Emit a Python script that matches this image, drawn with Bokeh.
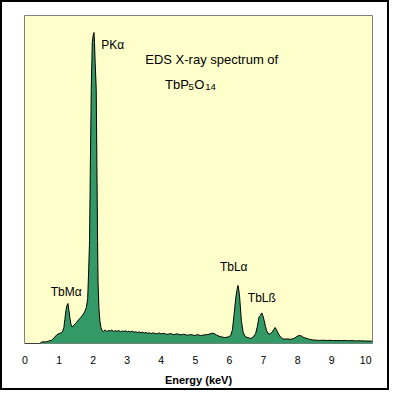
from bokeh.plotting import figure
from bokeh.models import ColumnDataSource, FixedTicker, Range1d
from bokeh.core.properties import value
from bokeh.embed import file_html
from bokeh.resources import INLINE

# Energy (keV) and intensity (arbitrary counts)
energy = [0.00, 0.45, 0.48, 0.55, 0.62, 0.70, 0.78, 0.85, 0.92, 1.00, 1.07, 1.11, 1.14, 1.17,
          1.20, 1.23, 1.26, 1.29, 1.32, 1.35, 1.38, 1.42, 1.46, 1.51, 1.56, 1.61, 1.65, 1.70,
          1.75, 1.80, 1.84, 1.87, 1.895, 1.915, 1.945, 1.975, 2.00, 2.025, 2.04, 2.06, 2.09,
          2.11, 2.13, 2.145, 2.17, 2.20, 2.23, 2.26, 2.30, 2.35, 2.40, 2.45, 2.50, 2.55, 2.60,
          2.65, 2.70, 2.75, 2.80, 2.85, 2.90, 2.95, 3.00, 3.05, 3.10, 3.15, 3.20, 3.25, 3.30,
          3.35, 3.40, 3.45, 3.50, 3.55, 3.60, 3.65, 3.70, 3.75, 3.80, 3.85, 3.90, 3.95, 4.00,
          4.05, 4.10, 4.15, 4.20, 4.25, 4.30, 4.35, 4.40, 4.45, 4.50, 4.55, 4.60, 4.65, 4.70,
          4.75, 4.80, 4.85, 4.90, 4.95, 5.00, 5.05, 5.10, 5.15, 5.20, 5.25, 5.30, 5.35, 5.40,
          5.48, 5.55, 5.62, 5.70, 5.78, 5.85, 5.92, 5.98, 6.04, 6.09, 6.14, 6.19, 6.22, 6.25,
          6.27, 6.30, 6.35, 6.40, 6.44, 6.48, 6.55, 6.63, 6.70, 6.77, 6.82, 6.87, 6.91, 6.95,
          6.98, 7.02, 7.06, 7.09, 7.13, 7.16, 7.21, 7.26, 7.30, 7.34, 7.38, 7.41, 7.46, 7.50,
          7.55, 7.60, 7.70, 7.78, 7.85, 7.92, 7.99, 8.04, 8.09, 8.15, 8.20, 8.28, 8.35, 8.45,
          8.55, 8.65, 8.75, 8.85, 8.95, 9.05, 9.15, 9.25, 9.40, 9.50, 9.60, 9.70, 9.85, 10.00,
          10.10, 10.20]
counts = [0, 0, 1.5, 1.7, 1.6, 2.5, 3.3, 5.5, 8.3, 10, 10.6, 12.5, 16, 24,
          33, 38, 40, 33, 25, 19, 16.6, 17.5, 19.3, 21, 23.3, 25, 26.6, 29,
          31.6, 36, 45, 75, 103, 170, 255, 301, 308, 311, 301, 280, 255,
          180, 103, 60, 35, 22, 16, 13, 12, 13.5, 12, 13, 12.5, 13.5, 12,
          12.8, 12.2, 13, 11.8, 12.5, 12, 12.8, 11.5, 12.3, 11.6, 12.5, 11.2, 11.8, 11,
          11.7, 10.8, 11.3, 10.5, 11.0, 10.2, 10.8, 9.8, 10.6, 10.3, 9.6, 10.1, 10.5, 9.5,
          10.2, 9.9, 9.3, 9.2, 9.9, 9.6, 9.1, 9, 9.7, 9.3, 8.8, 8.7, 9.3, 8.9,
          8.3, 8.4, 8.9, 8.7, 8.1, 8.2, 8.8, 8.5, 8.0, 8.1, 8.7, 8.6, 9.0, 9.2,
          10.2, 10, 8.5, 7.2, 6.5, 6, 6.2, 6.8, 8, 14, 30, 46.6, 53, 58,
          55, 46.6, 23, 11.6, 8.5, 6.6, 5.8, 5, 6.5, 10, 17, 26.6, 28, 30.6,
          28, 23, 17, 13, 10.5, 9.3, 10, 11.6, 14, 16, 14, 11.6, 8.5, 6.6,
          5.2, 4.3, 4.6, 4.2, 4.5, 5.5, 7.3, 7.8, 8, 6.6, 5.8, 5, 4.2, 3.5,
          3.3, 3.1, 3.3, 3, 3.2, 2.9, 3, 2.8, 3, 2.7, 2.9, 2.6, 2.7, 2.5,
          2.4, 2.3]

tick_values = [0, 1, 2, 3, 4, 5, 6, 7, 8, 9, 10]

peak_names = ["PK\u03b1", "TbM\u03b1", "TbL\u03b1", "TbL\u00df"]
peak_label_x = [2.24, 0.755, 5.72, 6.54]
peak_label_y = [299, 52, 76.6, 46]

# title: first line, then formula pieces (text, size, baseline height)
title_line1 = "EDS X-ray spectrum of"
title_line1_x = 3.53
title_line1_y = 284
formula_parts = ["TbP", "5", "O", "14"]
formula_x = [4.11, 4.80, 4.97, 5.29]
formula_y = [258.7, 257, 258.7, 257]
formula_size = ["13px", "9.5px", "13px", "9.5px"]

FONT = "Liberation Sans"

p = figure(width=389, height=390, output_backend="svg", toolbar_location=None,
           x_range=Range1d(-0.015, 10.2), y_range=Range1d(0, 328),
           min_border_left=24, min_border_right=17, min_border_top=15, min_border_bottom=47)
p.background_fill_color = "#FFFFCC"
p.border_fill_color = "white"
p.border_fill_alpha = 0
p.outline_line_color = "#808080"
p.outline_line_width = 1
p.grid.visible = False
p.yaxis.visible = False
p.styles = {"background-color": "white", "box-shadow": "inset 0 0 0 2px black"}

src = ColumnDataSource(dict(x=energy, y=counts, y0=[0] * len(energy)))
p.varea(x="x", y1="y0", y2="y", source=src, fill_color="#339966")
p.line(x="x", y="y", source=src, line_color="black", line_width=1)

ax = p.xaxis[0]
ax.ticker = FixedTicker(ticks=tick_values)
ax.axis_line_color = None
ax.major_tick_line_color = None
ax.minor_tick_line_color = None
ax.major_tick_out = 0
ax.major_tick_in = 0
ax.major_label_standoff = 12
ax.major_label_text_font = FONT
ax.major_label_text_font_size = "10.5px"
ax.major_label_text_color = "black"
ax.axis_label = "Energy (keV)"
ax.axis_label_text_font = FONT
ax.axis_label_text_font_size = "11px"
ax.axis_label_text_font_style = "bold"
ax.axis_label_text_color = "black"
ax.axis_label_standoff = 7

lsrc = ColumnDataSource(dict(x=peak_label_x, y=peak_label_y, t=peak_names))
p.text(x="x", y="y", text="t", source=lsrc, text_font=value(FONT), text_font_size="12px",
       text_align="left", text_baseline="middle", text_color="black")
p.text(x=[title_line1_x], y=[title_line1_y], text=[title_line1], text_font=value(FONT),
       text_font_size="13px", text_align="left", text_baseline="middle", text_color="black")
fsrc = ColumnDataSource(dict(x=formula_x, y=formula_y, t=formula_parts, s=formula_size))
p.text(x="x", y="y", text="t", source=fsrc, text_font=value(FONT), text_font_size="s",
       text_align="left", text_baseline="alphabetic", text_color="black")

open("out.html", "w").write(file_html(p, INLINE))
